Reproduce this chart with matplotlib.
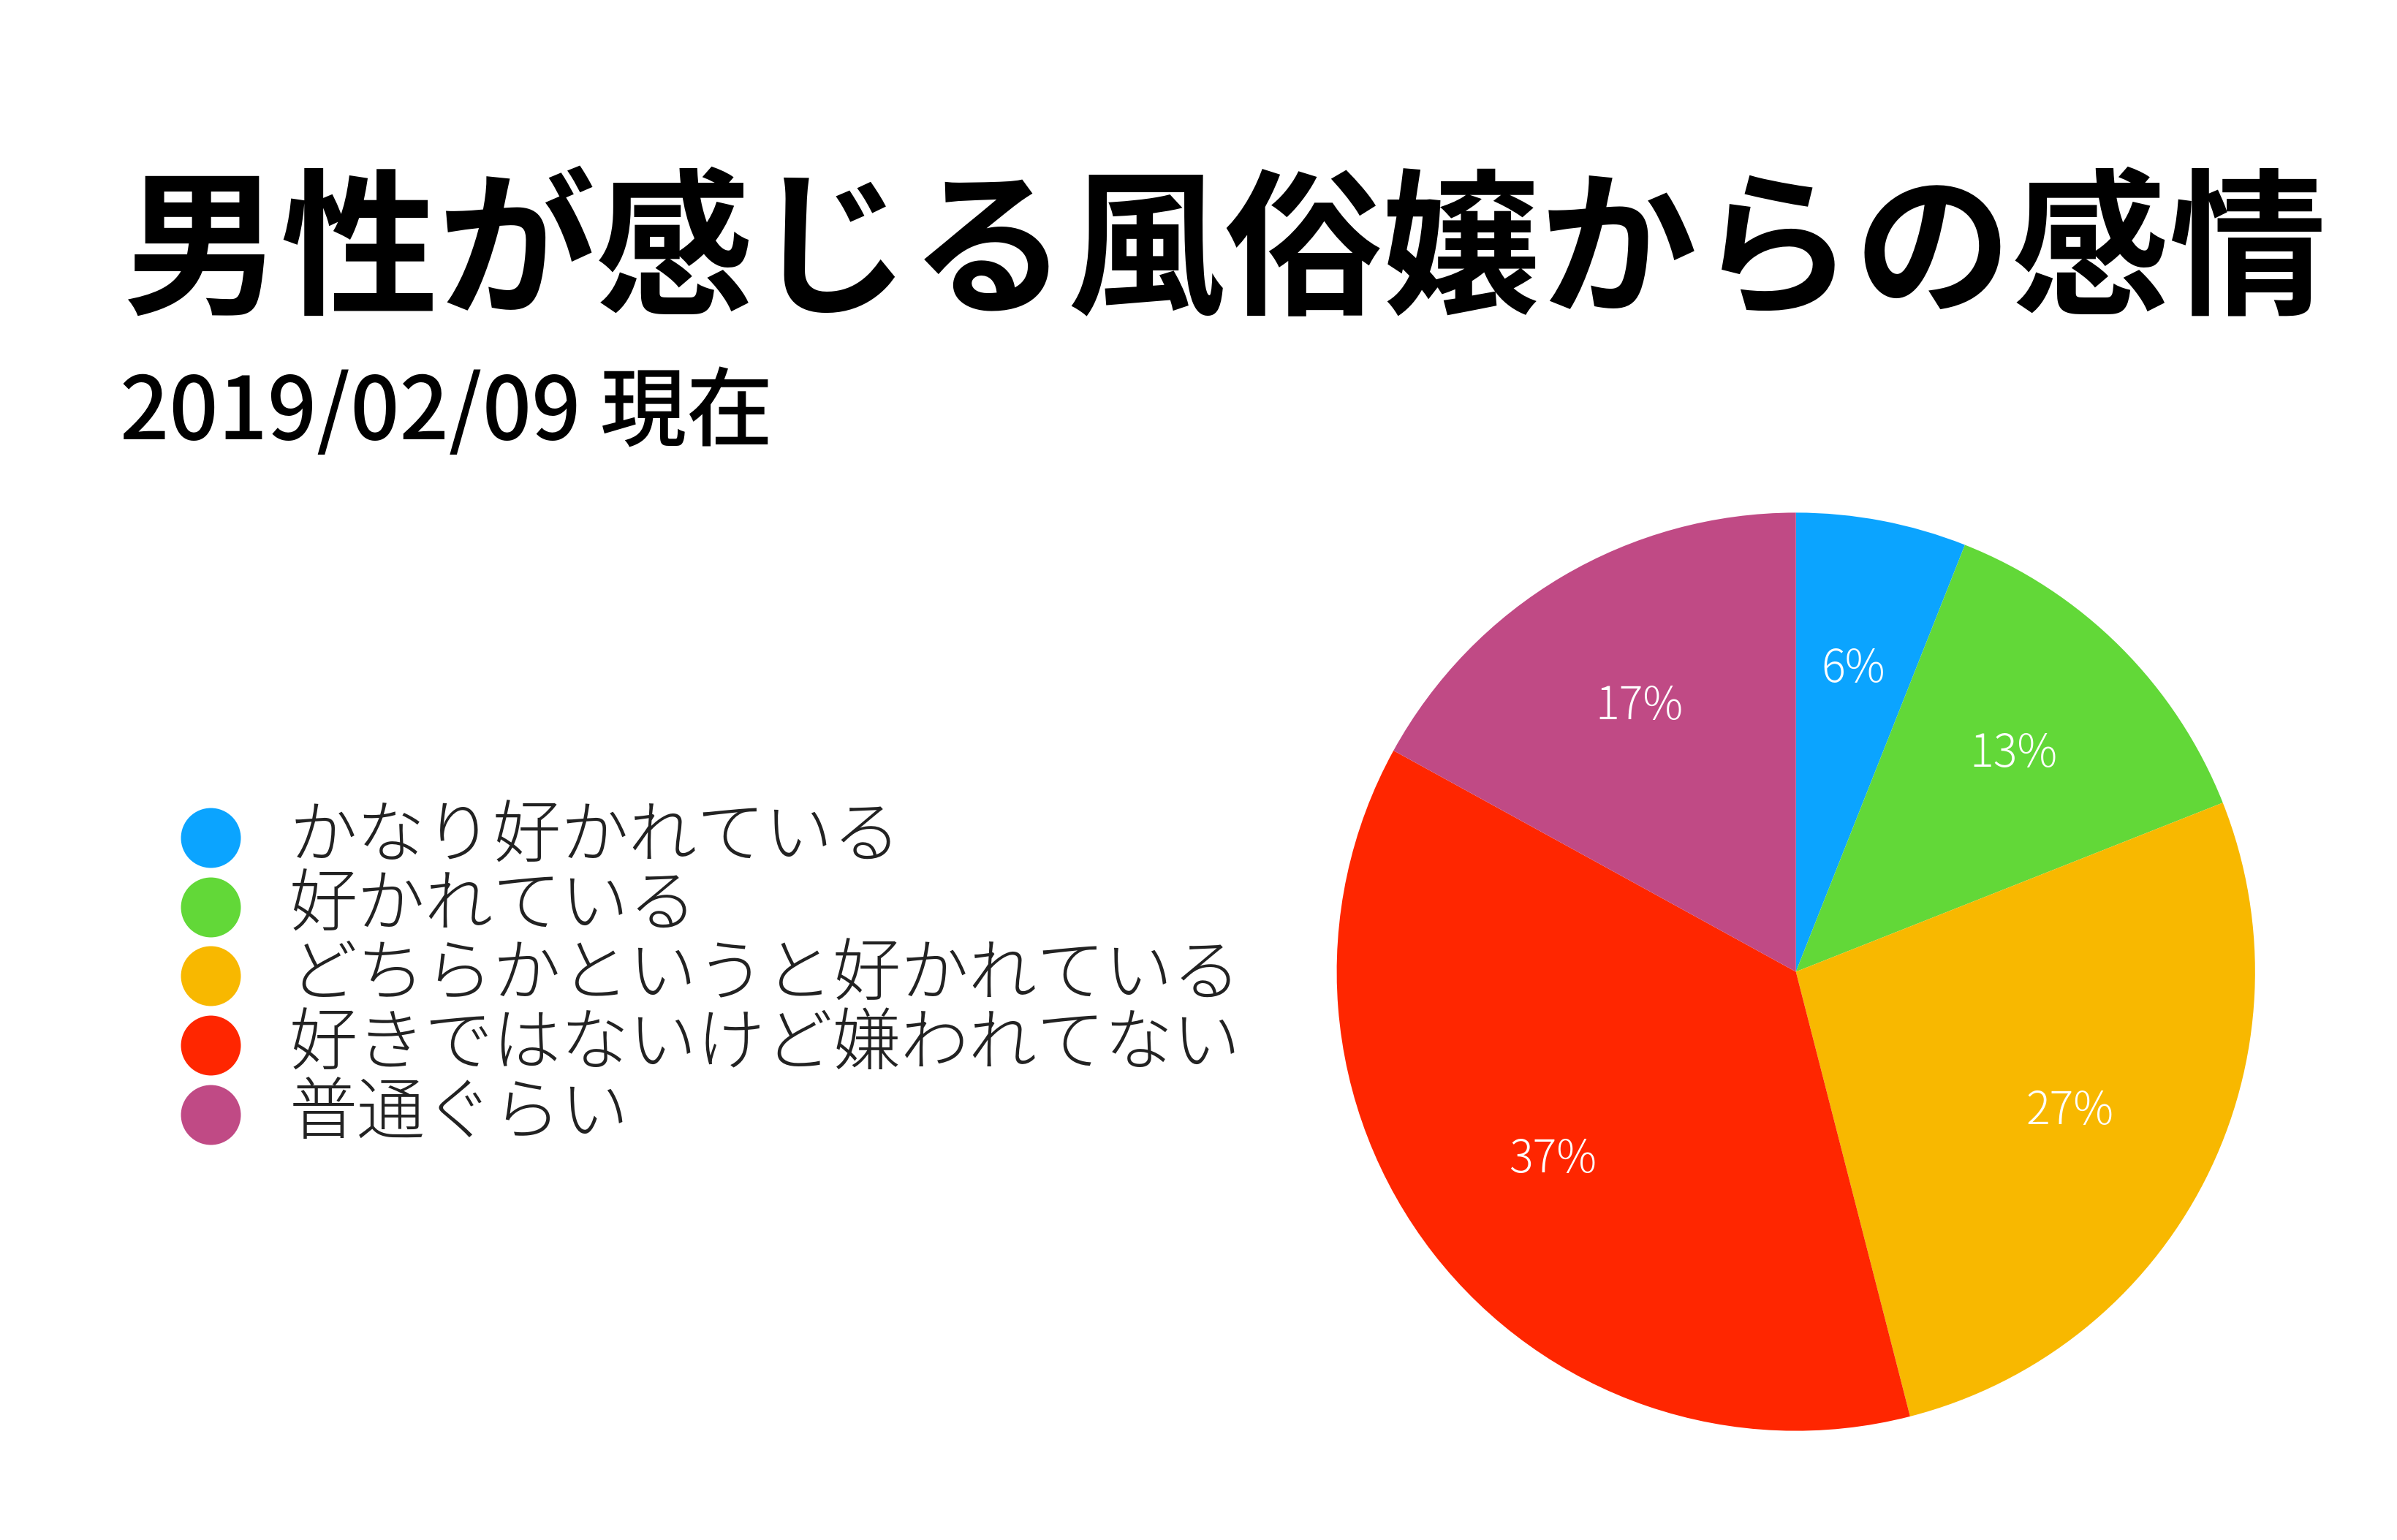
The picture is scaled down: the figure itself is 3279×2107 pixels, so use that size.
import matplotlib.pyplot as plt

plt.rcParams['font.family'] = ['Noto Sans CJK JP', 'DejaVu Sans']

title = '男性が感じる風俗嬢からの感情'
subtitle = '2019/02/09 現在'
labels = ['かなり好かれている', '好かれている', 'どちらかというと好かれている',
          '好きではないけど嫌われてない', '普通ぐらい']
shares = [6, 13, 27, 37, 17]
colors = ['#0BA4FF', '#62D838', '#F8B800', '#FF2600', '#C04A85']

fig = plt.figure(figsize=(32.8, 21.07), dpi=100)

fig.text(0.511, 0.834, title, ha='center', va='center', fontsize=155,
         fontweight='bold', color='black')
fig.text(0.05, 0.731, subtitle, ha='left', va='center', fontsize=85,
         fontweight='medium', color='black')

# pie
ax = fig.add_axes([0.5575, 0.0705, 0.383, 0.597])
wedges, texts, autotexts = ax.pie(
    shares, colors=colors, startangle=90, counterclock=False,
    autopct='%d%%', pctdistance=0.67,
    textprops=dict(color='white', fontsize=44, fontweight='light'))
ax.set_xlim(-1, 1)
ax.set_ylim(-1, 1)
ax.set_aspect('equal')

# legend
lax = fig.add_axes([0, 0, 1, 1])
lax.set_xlim(0, 1)
lax.set_ylim(0, 1)
lax.axis('off')
y0 = 0.456
step = 0.0449
for i, (lab, col) in enumerate(zip(labels, colors)):
    y = y0 - i * step
    lax.plot(0.0878, y, 'o', ms=59, color=col, mec='none')
    lax.text(0.1205, y, lab, ha='left', va='center', fontsize=67,
             fontweight='light', color='#222222')

fig.savefig('out.png', dpi=100, facecolor='white')
